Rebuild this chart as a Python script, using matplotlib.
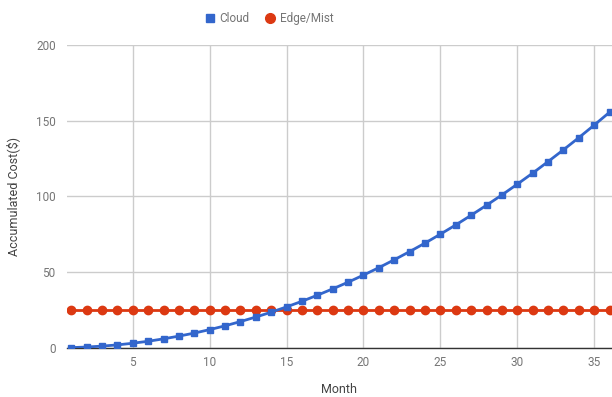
import matplotlib.pyplot as plt
from matplotlib.lines import Line2D

plt.rcParams['font.family'] = ['Roboto', 'DejaVu Sans']

months = list(range(1, 37))
cloud = [0.1, 0.5, 1.1, 1.9, 3.0, 4.3, 5.9, 7.7, 9.7, 12.0,
         14.5, 17.3, 20.3, 23.5, 27.0, 30.7, 34.7, 38.9, 43.3, 48.0,
         52.9, 58.1, 63.5, 69.1, 75.0, 81.1, 87.5, 94.1, 100.9, 108.0,
         115.3, 122.9, 130.7, 138.7, 147.0, 155.5]
edge_mist = [25] * 36

blue = '#3366cc'
red = '#dc3912'
grey = '#757575'

fig = plt.figure(figsize=(6.12, 3.97), dpi=100)
ax = fig.add_axes([0.109, 0.124, 0.891, 0.763])

ax.plot(months, edge_mist, color=red, lw=2, marker='o', ms=6, zorder=3)
ax.plot(months, cloud, color=blue, lw=2, marker='s', ms=4.5, zorder=4)

ax.set_xlim(0.7, 36.16)
ax.set_ylim(0, 200)
ax.set_xticks([5, 10, 15, 20, 25, 30, 35])
ax.set_yticks([0, 50, 100, 150, 200])
ax.grid(True, color='#cccccc', lw=1)
ax.set_axisbelow(True)
for s in ['top', 'right', 'left']:
    ax.spines[s].set_visible(False)
ax.spines['bottom'].set_color('#333333')
ax.spines['bottom'].set_linewidth(1)
ax.tick_params(length=0, labelsize=8.5, colors=grey, pad=6)
ax.tick_params(axis='y', pad=8)

ax.set_xlabel('Month', fontsize=9, color='#444444')
ax.set_ylabel('Accumulated Cost($)', fontsize=9, color='#444444')
ax.xaxis.set_label_coords(0.5, -0.115)
ax.yaxis.set_label_coords(-0.085, 0.5)

handles = [Line2D([], [], color=blue, marker='s', ms=5.5, ls='none'),
           Line2D([], [], color=red, marker='o', ms=7, ls='none')]
fig.legend(handles, ['Cloud', 'Edge/Mist'], loc='center', ncol=2,
           bbox_to_anchor=(0.438, 0.953), frameon=False, fontsize=8.5,
           labelcolor=grey, handletextpad=0.2, columnspacing=1.2,
           handlelength=1.2)

fig.savefig('out.png', dpi=100)
